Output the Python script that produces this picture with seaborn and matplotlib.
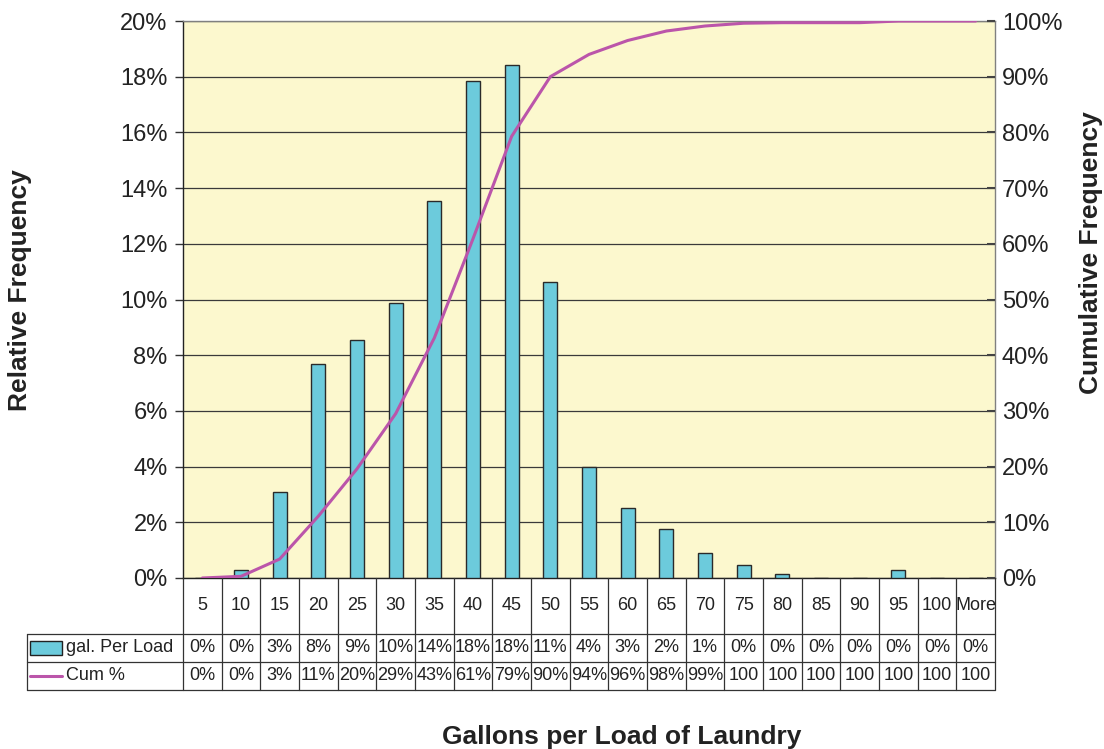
import numpy as np
import seaborn as sns
import matplotlib.pyplot as plt
from matplotlib.patches import Rectangle

categories = ["5", "10", "15", "20", "25", "30", "35", "40", "45", "50", "55",
              "60", "65", "70", "75", "80", "85", "90", "95", "100", "More"]
rel_freq = [0.0, 0.3, 3.1, 7.7, 8.55, 9.87, 13.55, 17.85, 18.42, 10.63, 3.99,
            2.51, 1.76, 0.9, 0.47, 0.15, 0.0, 0.0, 0.3, 0.0, 0.0]
cum_freq = [0.0, 0.3, 3.4, 11.1, 19.6, 29.5, 43.1, 60.9, 79.3, 90.0, 94.0,
            96.5, 98.2, 99.1, 99.6, 99.7, 99.7, 99.7, 100.0, 100.0, 100.0]
rel_labels = ["0%", "0%", "3%", "8%", "9%", "10%", "14%", "18%", "18%", "11%", "4%",
              "3%", "2%", "1%", "0%", "0%", "0%", "0%", "0%", "0%", "0%"]
cum_labels = ["0%", "0%", "3%", "11%", "20%", "29%", "43%", "61%", "79%", "90%", "94%",
              "96%", "98%", "99%", "100", "100", "100", "100", "100", "100", "100"]
series_names = ["gal. Per Load", "Cum %"]

bar_color = "#6ccbdc"
line_color = "#bb55aa"
bg_color = "#fcf8ce"
text_color = "#222222"

sns.set_style("white")
plt.rcParams["font.family"] = ["Liberation Sans", "DejaVu Sans"]

W, H = 1104, 749
fig = plt.figure(figsize=(W / 100, H / 100), dpi=100)

left, right, top, bottom = 183, 995, 21, 578
ax = fig.add_axes([left / W, 1 - bottom / H, (right - left) / W, (bottom - top) / H])
ax.set_facecolor(bg_color)

sns.barplot(x=categories, y=rel_freq, color=bar_color, width=0.36,
            edgecolor="#2a2a2a", linewidth=1.0, saturation=1, ax=ax, zorder=3)
ax.set_xlim(-0.5, len(categories) - 0.5)
ax.set_ylim(0, 20)
ax.set_yticks(np.arange(0, 21, 2))
ax.set_yticklabels([f"{v}%" for v in range(0, 21, 2)])
ax.set_xticks([])
ax.set_xlabel("")
ax.set_ylabel("")
ax.grid(axis="y", color="#3a3a3a", linewidth=0.9, zorder=0)
ax.set_axisbelow(True)
ax.tick_params(axis="y", labelsize=17, labelcolor=text_color, length=6,
               width=1, color="#333333", pad=5, direction="out")
for side in ["left", "bottom"]:
    ax.spines[side].set_color("#222222")
    ax.spines[side].set_linewidth(1.0)
for side in ["top", "right"]:
    ax.spines[side].set_color("#808080")
    ax.spines[side].set_linewidth(1.0)

ax2 = ax.twinx()
sns.lineplot(x=np.arange(len(categories)), y=cum_freq, color=line_color,
             linewidth=2.2, ax=ax2, zorder=4)
ax2.set_ylim(0, 100)
ax2.set_yticks(np.arange(0, 101, 10))
ax2.set_yticklabels([f"{v}%" for v in range(0, 101, 10)])
ax2.set_ylabel("")
ax2.tick_params(axis="y", labelsize=17, labelcolor=text_color, length=6,
                width=1.5, color="#444444", pad=5, direction="in")
for s in ax2.spines.values():
    s.set_visible(False)

# data table under the chart
tab_top, tab_bottom = 578, 690
axt = fig.add_axes([left / W, 1 - tab_bottom / H, (right - left) / W, (tab_bottom - tab_top) / H])
axt.set_xlim(-0.5, len(categories) - 0.5)
axt.set_ylim(0, 4)
axt.axis("off")
px = (right - left) / len(categories)
x_lab = -0.5 - (left - 27) / px
lc = "#333333"
lw = 0.9
n = len(categories)
fs = 13
for i in range(n + 1):
    axt.plot([i - 0.5, i - 0.5], [0, 4], color=lc, lw=lw, clip_on=False)
axt.plot([x_lab, x_lab], [0, 2], color=lc, lw=lw, clip_on=False)
for yy in [0, 1, 2]:
    axt.plot([x_lab, n - 0.5], [yy, yy], color=lc, lw=lw, clip_on=False)

for i, cat in enumerate(categories):
    axt.text(i, 3.0, cat, ha="center", va="center", fontsize=fs, color=text_color)
    axt.text(i, 1.5, rel_labels[i], ha="center", va="center", fontsize=fs, color=text_color)
    axt.text(i, 0.5, cum_labels[i], ha="center", va="center", fontsize=fs, color=text_color)

k0 = -0.5 - (left - 30) / px
k1 = -0.5 - (left - 62) / px
axt.add_patch(Rectangle((k0, 1.25), k1 - k0, 0.5, facecolor=bar_color,
                        edgecolor="#222222", lw=1.0, clip_on=False))
axt.plot([k0, k1], [0.5, 0.5], color=line_color, lw=2.2, clip_on=False)
axt.text(k1 + 0.1, 1.5, series_names[0], ha="left", va="center", fontsize=fs, color=text_color)
axt.text(k1 + 0.1, 0.5, series_names[1], ha="left", va="center", fontsize=fs, color=text_color)

fig.text(20 / W, 1 - 290 / H, "Relative Frequency", rotation=90, ha="center", va="center",
         fontsize=19, fontweight="bold", color=text_color)
fig.text(1091 / W, 1 - 253 / H, "Cumulative Frequency", rotation=90, ha="center", va="center",
         fontsize=19, fontweight="bold", color=text_color)
fig.text(622 / W, 1 - 737 / H, "Gallons per Load of Laundry", ha="center", va="center",
         fontsize=19, fontweight="bold", color=text_color)

fig.savefig("out.png", dpi=100, facecolor="white")
